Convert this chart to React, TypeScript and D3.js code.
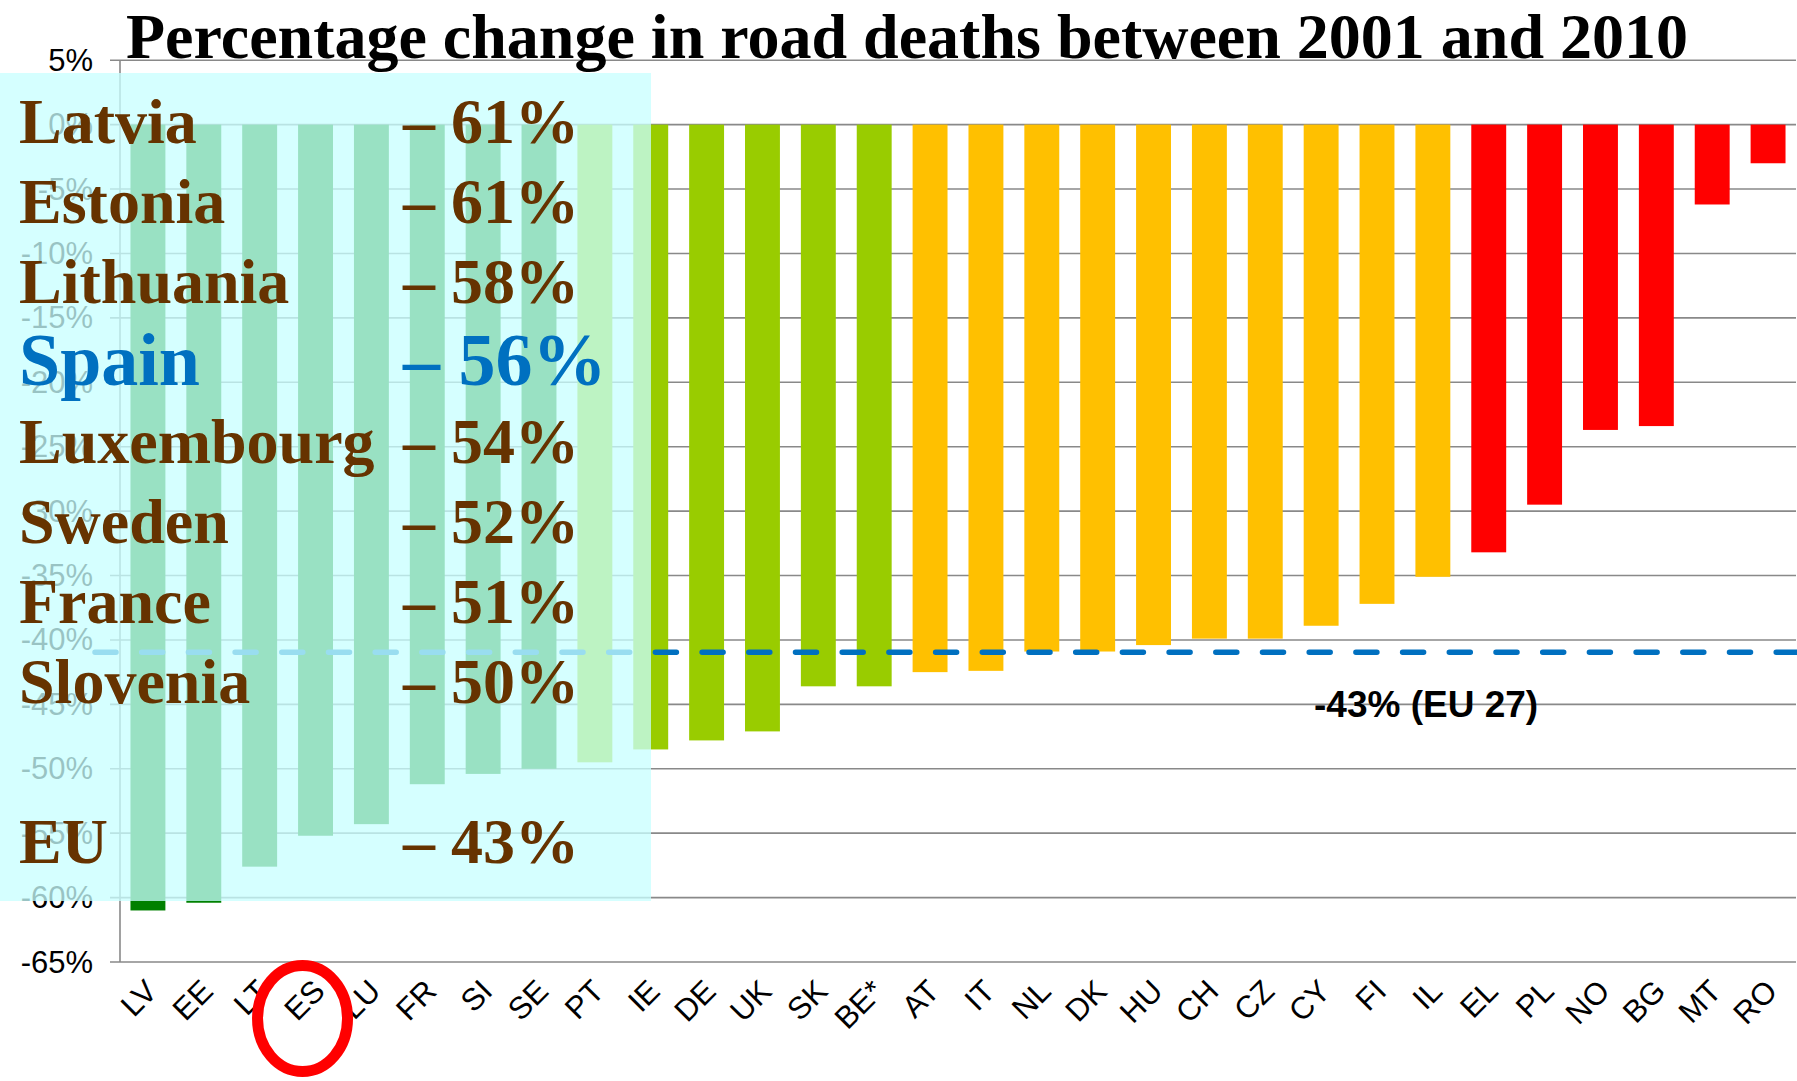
import React from 'react'
import * as d3 from 'd3'

// country codes along the x axis, in chart order
const codes = ['LV', 'EE', 'LT', 'ES', 'LU', 'FR', 'SI', 'SE', 'PT', 'IE', 'DE', 'UK', 'SK', 'BE*', 'AT',
  'IT', 'NL', 'DK', 'HU', 'CH', 'CZ', 'CY', 'FI', 'IL', 'EL', 'PL', 'NO', 'BG', 'MT', 'RO']

// % change 2001-2010
const values = [-61.0, -60.4, -57.6, -55.2, -54.3, -51.2, -50.4, -50.0, -49.5, -48.5, -47.8, -47.1, -43.6, -43.6, -42.5,
  -42.4, -40.9, -40.9, -40.4, -39.9, -39.9, -38.9, -37.2, -35.1, -33.2, -29.5, -23.7, -23.4, -6.2, -3.0]

// colour group of each bar
const tiers = ['best', 'best', 'best', 'best', 'best', 'best', 'best', 'best', 'good', 'good', 'good', 'good', 'good', 'good',
  'mid', 'mid', 'mid', 'mid', 'mid', 'mid', 'mid', 'mid', 'mid', 'mid', 'poor', 'poor', 'poor', 'poor', 'poor', 'poor']

const yTicks = [5, 0, -5, -10, -15, -20, -25, -30, -35, -40, -45, -50, -55, -60, -65]

// EU 27 average line (drawn position) and its label
const euLine = -40.95
const euLabel = '-43% (EU 27)'

// big table on the left
const rowNames = ['Latvia', 'Estonia', 'Lithuania', 'Spain', 'Luxembourg', 'Sweden', 'France', 'Slovenia', 'EU']
const rowPcts = ['– 61%', '– 61%', '– 58%', '– 56%', '– 54%', '– 52%', '– 51%', '– 50%', '– 43%']
const rowSlots = [0, 1, 2, 3, 4, 5, 6, 7, 9]

const title = 'Percentage change in road deaths between 2001 and 2010'

const W = 1797, H = 1081

export default function App() {
  const x = d3.scaleBand().domain(codes).range([120, 1796]).paddingInner(0.375).paddingOuter(0.1875)
  const y = d3.scaleLinear().domain([5, -65]).range([60.2, 962])
  const color = d3.scaleOrdinal().domain(['best', 'good', 'mid', 'poor']).range(['#008000', '#99CC00', '#FFC000', '#FF0000'])
  const rowY = d3.scaleLinear().domain([0, 9]).range([143, 863])

  const sans = "'Liberation Sans', Arial, sans-serif"
  const serif = "'Liberation Serif', 'Times New Roman', serif"
  const esX = (x('ES') as number) + x.bandwidth() / 2

  return (
    <svg width={W} height={H} style={{ position: 'absolute', left: 0, top: 0, display: 'block', background: '#fff' }}>
      {/* gridlines + ticks */}
      {yTicks.map(t => (
        <g key={t}>
          <line x1={110} x2={1796} y1={y(t)} y2={y(t)} stroke="#898989" strokeWidth={1.6} />
          <text x={93} y={y(t)} dy="0.34em" textAnchor="end" fontFamily={sans} fontSize={31} fill="#000">{t + '%'}</text>
        </g>
      ))}
      <line x1={120} x2={120} y1={y(5)} y2={y(-65)} stroke="#898989" strokeWidth={1.6} />

      {/* bars */}
      {codes.map((c, i) => (
        <rect key={c} x={x(c)} width={x.bandwidth()} y={y(0)} height={y(values[i]) - y(0)} fill={color(tiers[i]) as string} />
      ))}

      {/* EU average */}
      <line x1={95} x2={1797} y1={y(euLine)} y2={y(euLine)} stroke="#0070C0" strokeWidth={5.5}
        strokeDasharray="21 25.7" strokeLinecap="round" />
      <text x={1314} y={717} fontFamily={sans} fontWeight="bold" fontSize={37} fill="#000">{euLabel}</text>

      {/* x labels */}
      {codes.map(c => {
        const cx = (x(c) as number) + x.bandwidth() / 2
        return (
          <text key={c} transform={`translate(${cx + 11},${993}) rotate(-45)`} textAnchor="end"
            fontFamily={sans} fontSize={31} fill="#000">{c}</text>
        )
      })}

      {/* translucent panel over the left part */}
      <rect x={0} y={73} width={651} height={828} fill="rgb(200,255,255)" fillOpacity={0.765} />

      {rowNames.map((n, i) => {
        const big = n === 'Spain'
        const fill = big ? '#0070C0' : '#663300'
        const fs = big ? 74 : 64
        return (
          <g key={n} fontFamily={serif} fontWeight="bold" fill={fill} fontSize={fs}>
            <text x={19} y={rowY(rowSlots[i]) + (big ? 2 : 0)}>{n}</text>
            <text x={403} y={rowY(rowSlots[i]) + (big ? 2 : 0)} style={{ whiteSpace: 'pre' }}>{rowPcts[i]}</text>
          </g>
        )
      })}

      <text x={907} y={58} textAnchor="middle" fontFamily={serif} fontWeight="bold" fontSize={64} fill="#000">{title}</text>

      <ellipse cx={esX - 13} cy={1018.5} rx={45} ry={53} fill="none" stroke="#FF0000" strokeWidth={11} />
    </svg>
  )
}
